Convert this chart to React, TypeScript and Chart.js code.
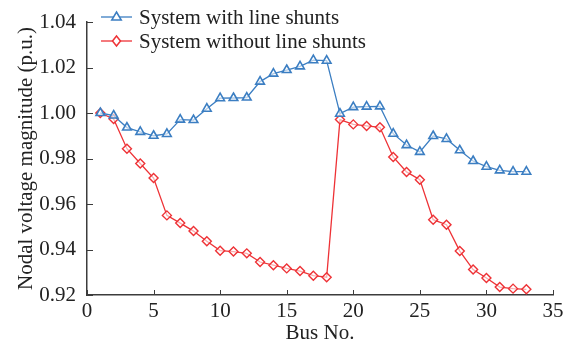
import React, { useEffect, useRef } from 'react';
import { Chart, registerables } from 'chart.js';

Chart.register(...registerables);

const busNo = [1, 2, 3, 4, 5, 6, 7, 8, 9, 10, 11, 12, 13, 14, 15, 16, 17, 18, 19, 20, 21, 22, 23, 24, 25, 26, 27, 28, 29, 30, 31, 32, 33];
const withShunts = [1.0, 0.9989, 0.9936, 0.9917, 0.99, 0.9908, 0.9971, 0.9969, 1.0019, 1.0065, 1.0066, 1.0068, 1.0138, 1.0173, 1.0189, 1.0205, 1.0232, 1.023, 0.9997, 1.0026, 1.0028, 1.0029, 0.9909, 0.9859, 0.9829, 0.9899, 0.9886, 0.9836, 0.9789, 0.9764, 0.9748, 0.9742, 0.9742];
const withoutShunts = [1.0, 0.9974, 0.9843, 0.9778, 0.9714, 0.955, 0.9516, 0.9481, 0.9436, 0.9395, 0.9391, 0.9383, 0.9345, 0.9331, 0.9317, 0.9305, 0.9285, 0.9278, 0.9971, 0.995, 0.9943, 0.9937, 0.9807, 0.9741, 0.9707, 0.9531, 0.9509, 0.9393, 0.9312, 0.9275, 0.9235, 0.9228, 0.9225];
const seriesLabels = ['System with line shunts', 'System without line shunts'];
const xTickValues = [0, 5, 10, 15, 20, 25, 30, 35];
const yTickValues = [0.92, 0.94, 0.96, 0.98, 1.0, 1.02, 1.04];

const BLUE = '#3b7ec2';
const RED = '#ee3236';
const AXIS = '#3c3c3c';
const TEXT = '#222222';
const FONT = "'Liberation Serif', 'Times New Roman', serif";
const FS = 21;

function drawMarker(ctx: CanvasRenderingContext2D, style: string, x: number, y: number, r: number) {
  ctx.beginPath();
  if (style === 'triangle') {
    ctx.moveTo(x, y - r);
    ctx.lineTo(x + r * 0.95, y + r * 0.6);
    ctx.lineTo(x - r * 0.95, y + r * 0.6);
    ctx.closePath();
  } else {
    ctx.moveTo(x, y - r);
    ctx.lineTo(x + r * 0.8, y);
    ctx.lineTo(x, y + r);
    ctx.lineTo(x - r * 0.8, y);
    ctx.closePath();
  }
  ctx.fill();
  ctx.stroke();
}

const inwardTicks = {
  id: 'inwardTicks',
  beforeDatasetsDraw(chart: any) {
    const { ctx, chartArea, scales } = chart;
    ctx.save();
    ctx.strokeStyle = AXIS;
    ctx.lineWidth = 1;
    ctx.beginPath();
    scales.x.ticks.forEach((t: any) => {
      const px = Math.round(scales.x.getPixelForValue(t.value)) + 0.5;
      ctx.moveTo(px, chartArea.bottom);
      ctx.lineTo(px, chartArea.bottom - 5);
    });
    scales.y.ticks.forEach((t: any) => {
      const py = Math.round(scales.y.getPixelForValue(t.value)) + 0.5;
      ctx.moveTo(chartArea.left, py);
      ctx.lineTo(chartArea.left + 6, py);
    });
    ctx.stroke();
    ctx.restore();
  },
};

const customLegend = {
  id: 'customLegend',
  afterDraw(chart: any) {
    const { ctx } = chart;
    ctx.save();
    const rows = [17, 41];
    chart.data.datasets.forEach((ds: any, i: number) => {
      const y = rows[i];
      ctx.strokeStyle = ds.borderColor;
      ctx.lineWidth = 1.3;
      ctx.beginPath();
      ctx.moveTo(101, y);
      ctx.lineTo(132, y);
      ctx.stroke();
      ctx.fillStyle = '#ffffff';
      ctx.lineWidth = 1.5;
      drawMarker(ctx, ds.pointStyle, 116.5, y, 5);
      ctx.fillStyle = TEXT;
      ctx.font = `${FS}px ${FONT}`;
      ctx.textBaseline = 'middle';
      ctx.textAlign = 'left';
      ctx.fillText(ds.label, 139, y + 1);
    });
    ctx.restore();
  },
};

export default function App() {
  const ref = useRef<HTMLCanvasElement | null>(null);
  useEffect(() => {
    if (!ref.current) return;
    const chart = new Chart(ref.current, {
      type: 'line',
      data: {
        datasets: [
          {
            label: seriesLabels[0],
            data: busNo.map((b, i) => ({ x: b, y: withShunts[i] })),
            borderColor: BLUE,
            backgroundColor: '#ffffff',
            pointBorderColor: BLUE,
            pointBackgroundColor: 'rgba(255,255,255,0.6)',
            pointStyle: 'triangle',
            pointRadius: 5,
            pointBorderWidth: 1.6,
            borderWidth: 1.3,
            tension: 0,
          },
          {
            label: seriesLabels[1],
            data: busNo.map((b, i) => ({ x: b, y: withoutShunts[i] })),
            borderColor: RED,
            backgroundColor: '#ffffff',
            pointBorderColor: RED,
            pointBackgroundColor: 'rgba(255,255,255,0.6)',
            pointStyle: 'rectRot',
            pointRadius: 4.5,
            pointBorderWidth: 1.4,
            borderWidth: 1.3,
            tension: 0,
          },
        ],
      },
      options: {
        animation: false,
        responsive: false,
        maintainAspectRatio: false,
        layout: { padding: { top: 22, right: 26, left: 0, bottom: 0 } },
        plugins: { legend: { display: false }, tooltip: { enabled: false } },
        scales: {
          x: {
            type: 'linear',
            min: 0,
            max: 35,
            afterBuildTicks: (s: any) => {
              s.ticks = xTickValues.map((v) => ({ value: v }));
            },
            afterFit: (s: any) => {
              s.height = 48;
            },
            grid: { display: false },
            border: { display: true, color: AXIS, width: 1.5 },
            ticks: {
              color: TEXT,
              font: { family: FONT, size: FS },
              padding: -4,
              maxRotation: 0,
              callback: (v: any) => String(v),
            },
            title: {
              display: true,
              text: 'Bus No.',
              color: TEXT,
              font: { family: FONT, size: FS },
              padding: { top: 0, bottom: -3 },
            },
          },
          y: {
            type: 'linear',
            min: 0.92,
            max: 1.04,
            afterBuildTicks: (s: any) => {
              s.ticks = yTickValues.map((v) => ({ value: v }));
            },
            afterFit: (s: any) => {
              s.width = 87;
            },
            grid: { display: false },
            border: { display: true, color: AXIS, width: 1.5 },
            ticks: {
              color: TEXT,
              font: { family: FONT, size: FS },
              padding: 3,
              callback: (v: any) => Number(v).toFixed(2),
            },
            title: {
              display: true,
              text: 'Nodal voltage magnitude (p.u.)',
              color: TEXT,
              font: { family: FONT, size: FS },
              padding: { top: 14, bottom: 0 },
            },
          },
        },
      },
      plugins: [inwardTicks, customLegend],
    });
    return () => chart.destroy();
  }, []);
  return (
    <div style={{ position: 'fixed', left: 0, top: 0, width: 579, height: 343, background: '#fff' }}>
      <canvas ref={ref} width={579} height={343} style={{ width: 579, height: 343, display: 'block' }} />
    </div>
  );
}
